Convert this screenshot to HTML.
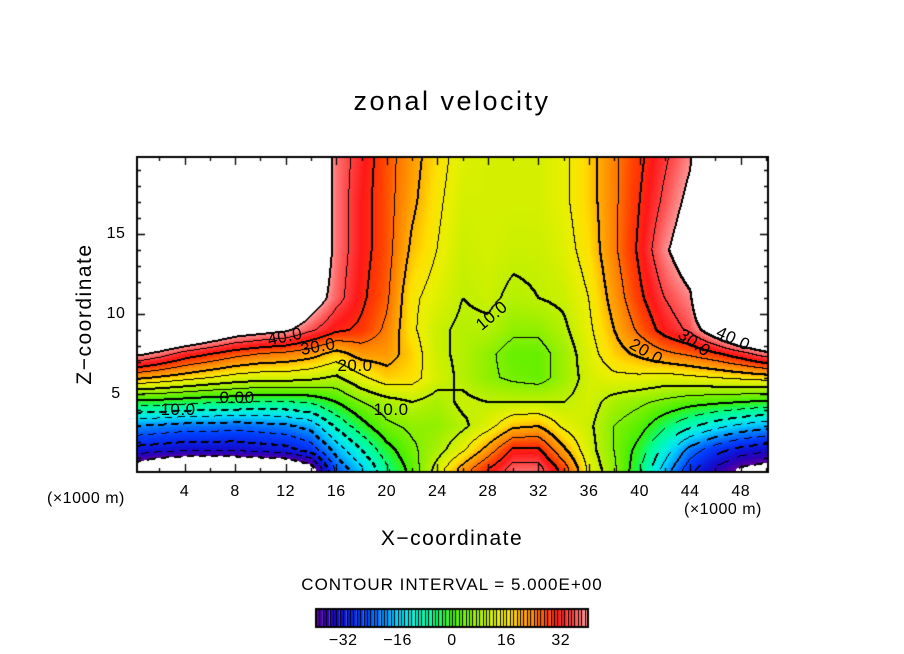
<!DOCTYPE html>
<html><head><meta charset="utf-8"><style>
html,body{margin:0;padding:0;background:#fff;}
#wrap{position:relative;width:904px;height:654px;overflow:hidden;font-family:"Liberation Sans",sans-serif;color:#000;}
.t{position:absolute;white-space:nowrap;}
</style></head><body>
<div id="wrap">
<div class="t" style="left:0;width:904px;text-align:center;top:86px;font-size:27px;letter-spacing:2.5px;">zonal velocity</div>
<canvas id="cv" width="904" height="654" style="position:absolute;left:0;top:0;"></canvas>
<div class="t" style="left:85px;top:314px;font-size:21px;letter-spacing:1.5px;transform:translate(-50%,-50%) rotate(-90deg);">Z−coordinate</div>
<div class="t" style="left:0;width:904px;text-align:center;top:527px;font-size:21px;letter-spacing:1.5px;">X−coordinate</div>
<div class="t" style="left:47px;top:490px;font-size:16px;letter-spacing:0.5px;">(×1000 m)</div>
<div class="t" style="left:684px;top:501px;font-size:16px;letter-spacing:0.5px;">(×1000 m)</div>
<div class="t" style="left:0;width:904px;text-align:center;top:575px;font-size:17px;letter-spacing:1px;">CONTOUR INTERVAL = 5.000E+00</div>
<div id="labels"></div>
</div>
<script>
const xCoords=[0,2,4,6,8,10,12,14,16,18,20,22,24,26,28,30,32,34,36,38,40,42,44,46,48,50];
const zCoords=[0.3,1.5,3,4.5,6,7.5,9,11,14,17,20];
const u00=[-44,-32,-20,-2,21,42,60,60,60,60,60];
const u02=[-50,-33,-21,-2,19,38,58,60,60,60,60];
const u04=[-52,-34,-22,-3,17,33,55,60,60,60,60];
const u06=[-52,-34,-22,-4,15,30,50,60,60,60,60];
const u08=[-52,-34,-23,-4,13,27,45,60,60,60,60];
const u10=[-51,-33,-22,-5,12,25,43,60,60,60,60];
const u12=[-50,-32,-21,-5,12,24,41,55,60,60,60];
const u14=[-44,-28,-18,-4,11,22,36,45,50,50,50];
const u16=[-24,-18,-9,0,9,18,31,37,38,38,38];
const u18=[-16,-10,-2,5,14,22,29,31,32,32,33];
const u20=[-6,-2,4,8,18,22,24,26,27,27,27];
const u22=[2,4,6,10,17,18,16,16,19,21,22];
const u24=[12,8,6,8,12,11,11,13,15,16,17];
const u26=[22,14,9,11,9,9,9,10,11,12,13];
const u28=[30,22,13,10,6,6,9,11,12,12,12];
const u30=[37,31,19,10,4,3,6,9,11,12,12];
const u32=[37,31,20,10,3,3,6,10,11,12,12];
const u34=[28,21,14,10,7,7,9,11,13,14,14];
const u36=[14,12,11,12,12,13,14,15,17,18,18];
const u38=[6,5,5,8,14,18,20,22,24,24,24];
const u40=[-4,-2,2,6,14,21,26,29,31,30,29];
const u42=[-17,-12,-4,4,13,24,32,35,39,36,34];
const u44=[-28,-22,-9,2,14,26,36,39,45,42,39];
const u46=[-36,-28,-13,1,15,29,45,60,60,60,60];
const u48=[-41,-32,-16,0,16,33,55,60,60,60,60];
const u50=[-43,-34,-18,-1,17,38,60,60,60,60,60];
const columns=[u00,u02,u04,u06,u08,u10,u12,u14,u16,u18,u20,u22,u24,u26,u28,u30,u32,u34,u36,u38,u40,u42,u44,u46,u48,u50];
const xTicks=[4,8,12,16,20,24,28,32,36,40,44,48];
const zTicks=[5,10,15];
const cbTicks=[-32,-16,0,16,32];

const PL=137,PR=768,PT=157,PB=472;
function xPix(x){return 134+x*12.64;}
function zPix(z){return 474-z*16;}
function xVal(p){return (p-134)/12.64;}
function zVal(p){return (474-p)/16;}
function field(x,z){
  x=Math.max(xCoords[0],Math.min(xCoords[xCoords.length-1],x));
  z=Math.max(zCoords[0],Math.min(zCoords[zCoords.length-1],z));
  let i=0;while(i<xCoords.length-2&&x>xCoords[i+1])i++;
  let j=0;while(j<zCoords.length-2&&z>zCoords[j+1])j++;
  const tx=(x-xCoords[i])/(xCoords[i+1]-xCoords[i]);
  const tz=(z-zCoords[j])/(zCoords[j+1]-zCoords[j]);
  const a=columns[i][j],b=columns[i+1][j],c=columns[i][j+1],d=columns[i+1][j+1];
  return (a*(1-tx)+b*tx)*(1-tz)+(c*(1-tx)+d*tx)*tz;
}
const stops=[[-40,[96,0,160]],[-37,[48,0,180]],[-33,[16,16,210]],[-26,[0,64,255]],[-20,[0,144,255]],[-16,[0,208,255]],[-12,[0,240,224]],[-6,[0,255,144]],[0,[60,240,0]],[6,[144,240,0]],[10,[192,240,0]],[14,[232,240,0]],[17,[255,224,0]],[20,[255,176,0]],[24,[255,128,0]],[28,[255,64,0]],[32,[255,24,24]],[36,[255,80,80]],[40,[255,152,152]]];
function cmap(v){
  if(v<=stops[0][0])return stops[0][1];
  for(let k=1;k<stops.length;k++){if(v<=stops[k][0]){const s0=stops[k-1],s1=stops[k];const t=(v-s0[0])/(s1[0]-s0[0]);return [0,1,2].map(q=>Math.round(s0[1][q]+(s1[1][q]-s0[1][q])*t));}}
  return stops[stops.length-1][1];
}
const cv=document.getElementById('cv');const ctx=cv.getContext('2d');
const W=PR-PL,H=PB-PT;
const img=ctx.createImageData(W,H);
const vals=new Float32Array(W*H);
for(let y=0;y<H;y++)for(let x=0;x<W;x++)vals[y*W+x]=field(xVal(PL+x+0.5),zVal(PT+y+0.5));
for(let y=0;y<H;y++)for(let x=0;x<W;x++){
  const v=vals[y*W+x];const o=(y*W+x)*4;
  let c=(v>40||v<-40)?[255,255,255]:cmap(v);
  img.data[o]=c[0];img.data[o+1]=c[1];img.data[o+2]=c[2];img.data[o+3]=255;
}
function lev(v){return Math.floor(v/5);}
function mark(x,y,thick){
  const set=(xx,yy)=>{if(xx<0||yy<0||xx>=W||yy>=H)return;const o=(yy*W+xx)*4;img.data[o]=0;img.data[o+1]=0;img.data[o+2]=0;};
  set(x,y);if(thick){set(x+1,y);set(x,y+1);}
}
for(let y=0;y<H-1;y++)for(let x=0;x<W-1;x++){
  const v=vals[y*W+x],r=vals[y*W+x+1],d=vals[(y+1)*W+x];
  const l=lev(v);
  for(const n of [r,d]){
    const ln=lev(n);
    if(ln!==l){
      const level=Math.max(l,ln)*5;
      if(level<-40||level>40)continue;
      if(level<0&&((x+y)%12)>6)continue;
      mark(x,y,level%10===0);
    }
  }
}
ctx.putImageData(img,PL,PT);
ctx.strokeStyle='#000';ctx.lineWidth=2;ctx.strokeRect(PL,PT,W,H);
ctx.lineWidth=1.3;
for(let x=0;x<=50;x+=2){const p=Math.round(xPix(x))+0.5;if(p<PL||p>PR)continue;const L=(x%4===0)?8:4;
  ctx.beginPath();ctx.moveTo(p,PB);ctx.lineTo(p,PB-L);ctx.moveTo(p,PT);ctx.lineTo(p,PT+L);ctx.stroke();}
for(let z=1;z<=19;z++){const p=Math.round(zPix(z))+0.5;const L=(z%5===0)?8:4;
  ctx.beginPath();ctx.moveTo(PL,p);ctx.lineTo(PL+L,p);ctx.moveTo(PR,p);ctx.lineTo(PR-L,p);ctx.stroke();}
const CBL=316,CBR=588,CBT=609,CBB=627;
const nb=80;const bw=(CBR-CBL)/nb;
for(let k=0;k<nb;k++){const v=-40+(k+0.5)*80/nb;const c=cmap(v);ctx.fillStyle='rgb('+c.join(',')+')';ctx.fillRect(CBL+k*bw,CBT,bw,CBB-CBT);
  ctx.fillStyle='#000';ctx.fillRect(Math.round(CBL+k*bw),CBT,1,CBB-CBT);}
ctx.lineWidth=2;ctx.strokeRect(CBL,CBT,CBR-CBL,CBB-CBT);
const labels=document.getElementById('labels');
function addLabel(txt,x,y,name,size,rot){
  const d=document.createElement('div');d.className='t';d.textContent=txt;
  
  
  d.style.left=x+'px';d.style.top=y+'px';d.style.fontSize=(size||15)+'px';d.style.letterSpacing='0.5px';
  d.style.transform='translate(-50%,-50%)'+(rot?' rotate('+rot+'deg)':'');
  labels.appendChild(d);
}
xTicks.forEach(t=>addLabel(String(t),xPix(t),492,'x-tick-label',16));
zTicks.forEach(t=>addLabel(String(t),116,zPix(t),'y-tick-label',16));
cbTicks.forEach(t=>addLabel(t<0?'−'+(-t):String(t),CBL+(t+40)*(CBR-CBL)/80,641,'colorbar-tick-label',16));
const cl=[["40.0",285,337,-12],["30.0",318,347,-10],["20.0",355,366,0],["0.00",237,398,0],["10.0",178,410,0],["10.0",391,410,0],["10.0",492,316,-40],["20.0",646,352,30],["30.0",694,343,35],["40.0",733,339,25]];
cl.forEach(c=>addLabel(c[0],c[1],c[2],'contour-label',17,c[3]));
</script>
</body></html>
